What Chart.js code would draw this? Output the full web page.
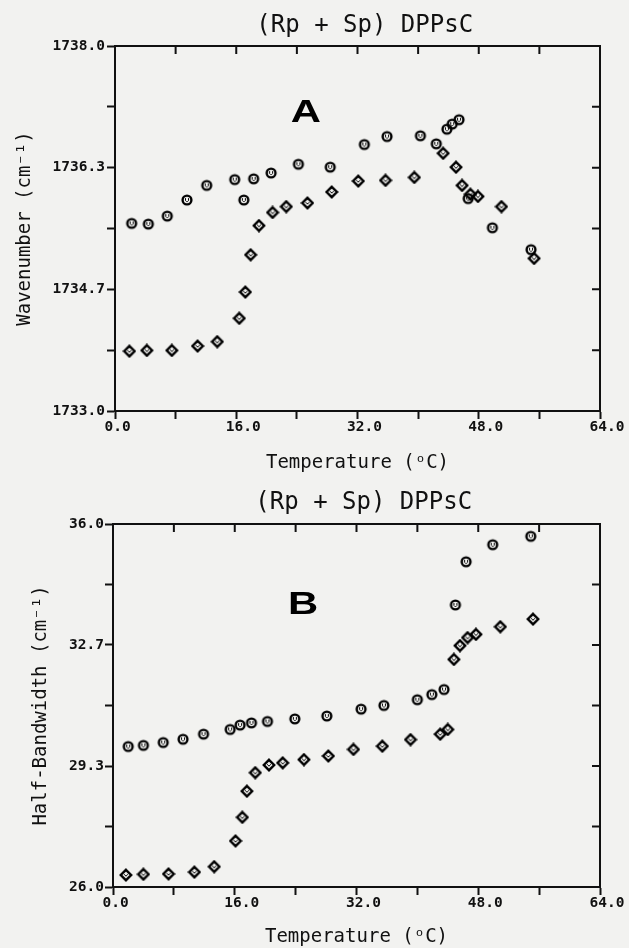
<!DOCTYPE html>
<html>
<head>
<meta charset="utf-8">
<script src="https://cdn.jsdelivr.net/npm/chart.js@4.4.1/dist/chart.umd.min.js"></script>
<style>
  html, body { margin: 0; padding: 0; background: #f2f2f0; }
  canvas { display: block; }
</style>
</head>
<body>
<canvas id="chartA" width="629" height="474"></canvas>
<canvas id="chartB" width="629" height="474"></canvas>
<script>
const titleText = '(Rp + Sp) DPPsC';
const xTitle = 'Temperature (ᵒC)';
const xTicks = [0, 8, 16, 24, 32, 40, 48, 56, 64];
const xTickLabels = ['0.0', '', '16.0', '', '32.0', '', '48.0', '', '64.0'];

// A: carbonyl band position
const tempA_circ = [2.2, 4.4, 6.9, 9.5, 12.1, 15.8, 17.0, 18.3, 20.6, 24.2, 28.4, 32.9, 35.9, 40.3, 42.4, 43.8, 44.5, 45.4, 46.6, 49.8, 54.9];
const waveA_circ = [1735.57, 1735.56, 1735.67, 1735.89, 1736.09, 1736.17, 1735.89, 1736.18, 1736.26, 1736.38, 1736.34, 1736.65, 1736.76, 1736.77, 1736.66, 1736.86, 1736.93, 1736.99, 1735.91, 1735.51, 1735.21];
const tempA_diam = [1.9, 4.2, 7.5, 10.9, 13.5, 16.4, 17.2, 17.9, 19.0, 20.8, 22.6, 25.4, 28.6, 32.1, 35.7, 39.5, 43.3, 45.0, 45.8, 46.9, 47.9, 51.0, 55.3];
const waveA_diam = [1733.82, 1733.83, 1733.83, 1733.89, 1733.95, 1734.27, 1734.63, 1735.14, 1735.54, 1735.72, 1735.80, 1735.85, 1736.00, 1736.15, 1736.16, 1736.20, 1736.53, 1736.34, 1736.09, 1735.97, 1735.94, 1735.80, 1735.09];
const yTicksA = [1733.0, 1733.8333, 1734.6667, 1735.5, 1736.3333, 1737.1667, 1738.0];
const yTickLabelsA = ['1733.0', '', '1734.7', '', '1736.3', '', '1738.0'];

// B: half-bandwidth
const tempB_circ = [2.0, 4.0, 6.6, 9.2, 11.9, 15.4, 16.7, 18.2, 20.3, 23.9, 28.1, 32.6, 35.6, 40.0, 41.9, 43.5, 45.0, 46.4, 49.9, 54.9];
const widthB_circ = [29.87, 29.90, 29.98, 30.07, 30.21, 30.34, 30.46, 30.52, 30.56, 30.63, 30.71, 30.90, 31.00, 31.16, 31.30, 31.44, 33.77, 34.96, 35.43, 35.66];
const tempB_diam = [1.7, 4.0, 7.3, 10.7, 13.3, 16.1, 17.0, 17.6, 18.7, 20.5, 22.3, 25.1, 28.3, 31.6, 35.4, 39.1, 43.0, 44.0, 44.8, 45.6, 46.6, 47.7, 50.9, 55.2];
const widthB_diam = [26.33, 26.35, 26.36, 26.41, 26.56, 27.27, 27.92, 28.64, 29.15, 29.36, 29.42, 29.51, 29.61, 29.79, 29.88, 30.06, 30.21, 30.34, 32.27, 32.65, 32.87, 32.96, 33.17, 33.38];
const yTicksB = [26.0, 27.6667, 29.3333, 31.0, 32.6667, 34.3333, 36.0];
const yTickLabelsB = ['26.0', '', '29.3', '', '32.7', '', '36.0'];

const INK = '#111';
const mono = 'DejaVu Sans Mono';

// plotter-style symbols: open circle / diamond with a small tick inside
function marker(kind) {
  const c = document.createElement('canvas');
  c.width = 14; c.height = 14;
  const g = c.getContext('2d');
  g.strokeStyle = '#000';
  g.lineCap = 'round';
  g.lineWidth = 2.4;
  g.beginPath();
  if (kind === 'circle') {
    g.arc(7, 7, 4.4, 0, Math.PI * 2);
    g.stroke();
    g.lineWidth = 1;
    g.beginPath();
    g.moveTo(5.5, 5.5); g.lineTo(5.5, 7.5);
    g.lineTo(6.5, 8.5); g.lineTo(7.5, 8.5);
    g.lineTo(8.5, 7.5); g.lineTo(8.5, 5.5);
  } else {
    g.moveTo(7, 1.8); g.lineTo(12.2, 7); g.lineTo(7, 12.2); g.lineTo(1.8, 7); g.closePath();
    g.stroke();
    g.lineWidth = 1;
    g.beginPath();
    g.moveTo(5.5, 6.5); g.lineTo(7, 8.2); g.lineTo(8.5, 6.5);
  }
  g.stroke();
  return c;
}
const circleMark = marker('circle');
const diamondMark = marker('diamond');

const toPoints = (xs, ys) => xs.map((x, i) => ({ x: x, y: ys[i] }));

// top/right frame with inward ticks, plus the panel letter
const framePlugin = {
  id: 'frame',
  afterDraw(chart, args, opts) {
    const { ctx, chartArea: a, scales: { x, y } } = chart;
    ctx.save();
    ctx.strokeStyle = INK;
    ctx.lineWidth = 2;
    ctx.beginPath();
    ctx.moveTo(a.left - 1, a.top);
    ctx.lineTo(a.right, a.top);
    ctx.lineTo(a.right, a.bottom + 1);
    x.ticks.forEach(t => {
      const px = x.getPixelForValue(t.value);
      ctx.moveTo(px, a.top); ctx.lineTo(px, a.top + 8);
    });
    y.ticks.forEach(t => {
      const py = y.getPixelForValue(t.value);
      ctx.moveTo(a.right, py); ctx.lineTo(a.right - 8, py);
    });
    ctx.stroke();

    ctx.fillStyle = '#000';
    ctx.font = 'bold 31px "Liberation Sans"';
    ctx.textAlign = 'center';
    ctx.textBaseline = 'alphabetic';
    ctx.translate(x.getPixelForValue(opts.at[0]), y.getPixelForValue(opts.at[1]));
    ctx.scale(1.35, 1);
    ctx.fillText(opts.letter, 0, 0);
    ctx.restore();
  }
};

function buildChart(id, cfg) {
  const pointOpts = { pointRadius: 5, pointBorderWidth: 0, pointBackgroundColor: 'rgba(0,0,0,0)', pointBorderColor: 'rgba(0,0,0,0)' };
  return new Chart(document.getElementById(id), {
    type: 'scatter',
    data: {
      datasets: [
        Object.assign({ data: toPoints(cfg.xc, cfg.yc), pointStyle: circleMark }, pointOpts),
        Object.assign({ data: toPoints(cfg.xd, cfg.yd), pointStyle: diamondMark }, pointOpts)
      ]
    },
    options: {
      responsive: false,
      devicePixelRatio: 1,
      animation: false,
      layout: { padding: { right: 29 } },
      plugins: {
        legend: { display: false },
        tooltip: { enabled: false },
        title: {
          display: true,
          fullSize: false,
          text: ' ' + titleText,
          color: INK,
          font: { family: mono, size: 24, weight: 'normal', lineHeight: 1 },
          padding: { top: cfg.titleTop, bottom: cfg.titleBottom }
        },
        frame: { letter: cfg.letter, at: cfg.letterAt }
      },
      scales: {
        x: {
          type: 'linear',
          min: 0,
          max: 64,
          afterBuildTicks: s => { s.ticks = xTicks.map(v => ({ value: v })); },
          afterFit: s => { s.height = cfg.xAxisHeight; },
          grid: { drawOnChartArea: false, tickLength: 8, tickWidth: 2, tickColor: INK },
          border: { color: INK, width: 2 },
          ticks: {
            color: INK,
            padding: 0,
            labelOffset: 7,
            autoSkip: false,
            maxRotation: 0,
            font: { family: mono, size: 14.5, weight: 'bold' },
            // zero label sits a little nearer its tick
            callback: (v, i) => i === 0 ? xTickLabels[i] + ' ' : xTickLabels[i]
          },
          title: {
            display: true,
            text: xTitle,
            color: INK,
            font: { family: mono, size: 19, lineHeight: 1.2 },
            padding: { top: 0, bottom: 0 }
          }
        },
        y: {
          type: 'linear',
          min: cfg.yTicks[0],
          max: cfg.yTicks[cfg.yTicks.length - 1],
          afterBuildTicks: s => { s.ticks = cfg.yTicks.map(v => ({ value: v })); },
          afterFit: s => { s.width = cfg.yAxisWidth; },
          grid: { drawOnChartArea: false, tickLength: 8, tickWidth: 2, tickColor: INK },
          border: { color: INK, width: 2 },
          ticks: {
            color: INK,
            padding: cfg.yPad,
            autoSkip: false,
            font: { family: mono, size: 14.5, weight: 'bold' },
            callback: (v, i) => cfg.yLabels[i]
          },
          title: {
            display: true,
            text: cfg.yTitle,
            color: INK,
            font: { family: mono, size: 19, lineHeight: 1.2 },
            padding: { top: cfg.yTitlePad, bottom: 0 }
          }
        }
      }
    },
    plugins: [framePlugin]
  });
}

buildChart('chartA', {
  xc: tempA_circ, yc: waveA_circ, xd: tempA_diam, yd: waveA_diam,
  yTicks: yTicksA, yLabels: yTickLabelsA,
  yTitle: 'Wavenumber (cm⁻¹)',
  letter: 'A', letterAt: [25.2, 1736.96],
  titleTop: 14, titleBottom: 8,
  xAxisHeight: 63, yAxisWidth: 115, yPad: 2, yTitlePad: 14
});

buildChart('chartB', {
  xc: tempB_circ, yc: widthB_circ, xd: tempB_diam, yd: widthB_diam,
  yTicks: yTicksB, yLabels: yTickLabelsB,
  yTitle: 'Half-Bandwidth (cm⁻¹)',
  letter: 'B', letterAt: [25.0, 33.52],
  titleTop: 17, titleBottom: 9,
  xAxisHeight: 61, yAxisWidth: 113, yPad: 1, yTitlePad: 30
});
</script>
</body>
</html>
